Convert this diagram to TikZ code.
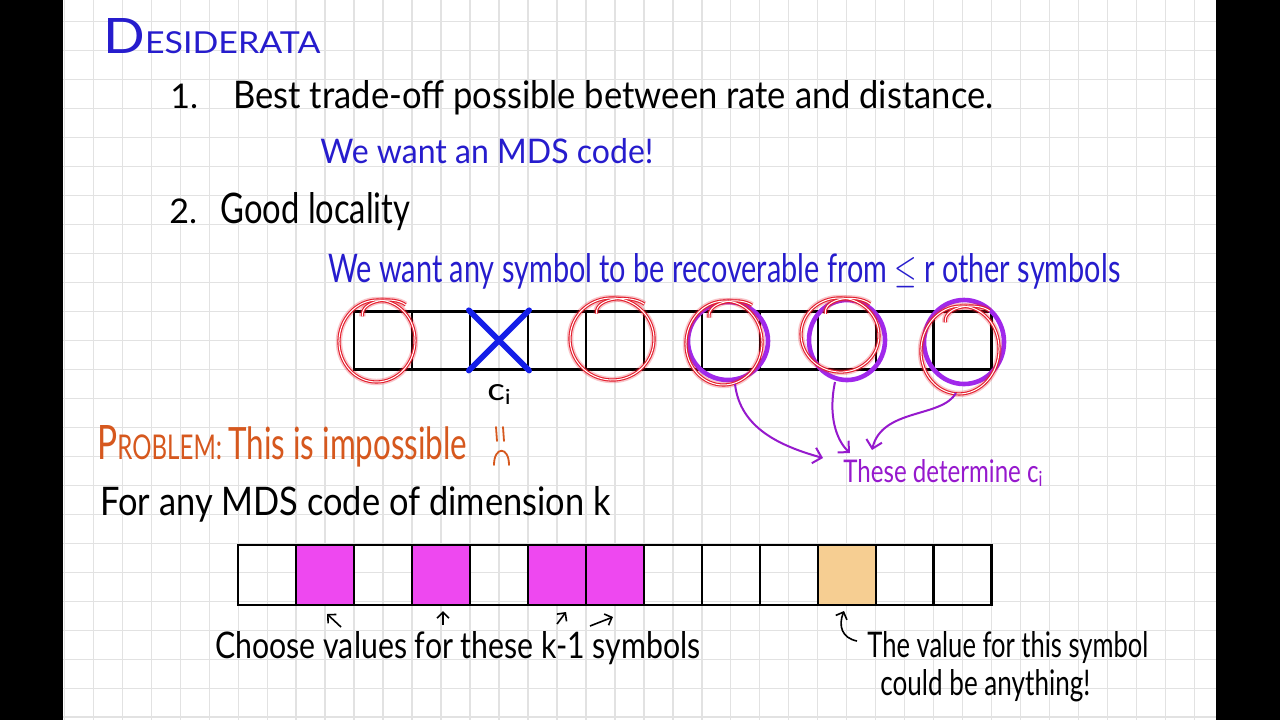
\documentclass[tikz,border=0pt]{standalone}
\usepackage{fontspec}
\usepackage{graphicx}
\setmainfont{Lato}
\usetikzlibrary{arrows.meta}
\definecolor{gridc}{RGB}{226,226,226}
\definecolor{inkblue}{RGB}{38,28,205}
\definecolor{xblue}{RGB}{20,30,232}
\definecolor{inkorange}{RGB}{214,88,30}
\definecolor{purp}{RGB}{150,25,205}
\definecolor{purpring}{RGB}{160,40,235}
\definecolor{magfill}{RGB}{238,72,240}
\definecolor{peach}{RGB}{246,206,146}
\definecolor{neonred}{RGB}{228,30,45}
\newcommand\fitw[3]{\resizebox{#1}{#2}{#3}}
\newcommand\neonloop[5]{%
  \begin{scope}[rotate around={#5:(#1,#2)}]
    \foreach \st in {neonglow,neonline,neoncore}{
      \draw[\st] (#1,#2) ellipse [x radius=#3, y radius=#4];
      \draw[\st] ({#1-0.45*#3},{#2-#4+18}) .. controls ({#1-0.55*#3},{#2-#4+2}) and ({#1+0.3*#3},{#2-#4-6}) .. ({#1+0.65*#3},{#2-#4+2});
    }
  \end{scope}}
\begin{document}
\begin{tikzpicture}[x=0.5pt,y=-0.5pt,
  gridline/.style={draw=gridc, line width=0.65pt},
  cellbox/.style={draw=black, line width=1.2pt, minimum width=29pt, minimum height=29pt, inner sep=0pt},
  lowcell/.style={draw=black, line width=1.2pt, minimum width=29pt, minimum height=30pt, inner sep=0pt},
  txt/.style={anchor=base west, inner sep=0pt, font=\fontsize{12}{14}\selectfont},
  neonglow/.style={draw=neonred, opacity=0.25, line width=3.2pt},
  neonline/.style={draw=neonred, line width=1.6pt},
  neoncore/.style={draw=white, line width=0.5pt},
  purpring/.style={draw=purpring, line width=2.3pt},
  xcross/.style={draw=xblue, line width=2.8pt, line cap=round},
  parr/.style={draw=purp, line width=1pt, -{Straight Barb[length=4pt,width=8pt]}},
  barr/.style={draw=black, line width=0.8pt, -{Straight Barb[length=3pt,width=6pt]}},
  frown/.style={draw=inkorange, line width=0.9pt, line cap=round}]
\useasboundingbox (0,0) rectangle (1280,720);
\fill[white] (0,0) rectangle (1280,720);
% grid
\foreach \k in {0,...,39} \draw[gridline] ({64.3+28.98*\k},0) -- ({64.3+28.98*\k},720);
\foreach \k in {0,...,24} \draw[gridline] (63,{21.6+28.98*\k}) -- (1216,{21.6+28.98*\k});
% side bars
\fill[black] (0,0) rectangle (63,720);
\fill[black] (1216,0) rectangle (1280,720);

% texts
\node[txt, text=inkblue] (title) at (103,53) {\fitw{108.5pt}{17.5pt}{{\fontsize{21}{21}\selectfont D}{\fontsize{13}{13}\selectfont ESIDERATA}}};
\node[txt] (n1) at (170,108) {\fontsize{17}{17}\selectfont 1.};
\node[txt] (t1) at (233,108) {\fitw{380pt}{14pt}{Best trade-off possible between rate and distance.}};
\node[txt, text=inkblue] (mds) at (320,163) {\fitw{166.5pt}{12.5pt}{We want an MDS code!}};
\node[txt] (n2) at (169,223) {\fontsize{17}{17}\selectfont 2.};
\node[txt] (t2) at (220,223) {\fitw{95pt}{15.5pt}{Good locality}};
\node[txt, text=inkblue] (loc) at (328,282) {\fitw{396pt}{14.5pt}{We want any symbol to be recoverable from $\le$ r other symbols}};

% upper row
\foreach \i in {1,...,11} \node[cellbox] (u\i) at ({325.1+57.96*\i},340.4) {};
\draw[xcross] (u3.north west) -- (u3.south east);
\draw[xcross] (u3.north east) -- (u3.south west);
\node[txt] (ci) at (487,400) {\fitw{12.5pt}{8pt}{c\textsubscript{i}}};

% purple rings
\draw[purpring] (728,341) ellipse [x radius=40, y radius=39];
\draw[purpring] (847,340) ellipse [x radius=38, y radius=40];
\draw[purpring] (964,342) ellipse [x radius=40, y radius=42];
% red neon loops
\neonloop{377}{341}{38}{41}{-6}
\neonloop{612}{339}{42}{41}{-8}
\neonloop{724}{343}{38}{42}{-5}
\neonloop{840}{335}{39}{37}{-8}
\neonloop{960}{350}{39}{44}{-6}

% purple arrows
\node[txt, text=purp] (det) at (843,482) {\fitw{100pt}{11.5pt}{These determine c\textsubscript{i}}};
\coordinate (a1s) at (735,384);
\coordinate (a1e) at (823,458);
\coordinate (a2s) at (835,382);
\coordinate (a2e) at (850,453);
\coordinate (a3s) at (956,393);
\coordinate (a3e) at (872,450);
\draw[parr] (a1s) .. controls (740,428) and (780,446) .. (a1e);
\draw[parr] (a2s) .. controls (828,415) and (836,440) .. (a2e);
\draw[parr] (a3s) .. controls (942,418) and (882,408) .. (a3e);

% problem
\node[txt, text=inkorange] (prob) at (97,459) {\fitw{185pt}{17pt}{{\fontsize{16}{16}\selectfont P}{\fontsize{11.5}{11.5}\selectfont ROBLEM}: {\fontsize{15}{15}\selectfont This is impossible}}};
\draw[frown] (496,427) -- (497,441);
\draw[frown] (503,427) -- (504,441);
\draw[frown] (494,465) .. controls (494,446) and (509,446) .. (509,465);

\node[txt] (dim) at (100,515) {\fitw{255pt}{14.5pt}{For any MDS code of dimension k}};

% lower row
\foreach \i in {1,...,13} \node[lowcell] (l\i) at ({209.2+57.96*\i},575) {};
\foreach \i in {2,4,6,7} \node[lowcell, fill=magfill] at (l\i) {};
\node[lowcell, fill=peach] at (l11) {};

% small arrows
\coordinate (b1s) at (341,627); \coordinate (b1e) at (327,614);
\coordinate (b2s) at (443,625); \coordinate (b2e) at (443,611);
\coordinate (b3s) at (557,624); \coordinate (b3e) at (566,612);
\coordinate (b4s) at (590,626); \coordinate (b4e) at (613,617);
\coordinate (b5s) at (857,641); \coordinate (b5e) at (844,611);
\draw[barr] (b1s) -- (b1e);
\draw[barr] (b2s) -- (b2e);
\draw[barr] (b3s) -- (b3e);
\draw[barr] (b4s) -- (b4e);
\draw[barr] (b5s) .. controls (842,638) and (838,626) .. (b5e);

\node[txt] (choose) at (215,658) {\fitw{242.5pt}{13.5pt}{Choose values for these k-1 symbols}};
\node[txt] (val1) at (867,657) {\fitw{140.5pt}{13pt}{The value for this symbol}};
\node[txt] (val2) at (880,695) {\fitw{105pt}{13pt}{could be anything!}};
\end{tikzpicture}
\end{document}
